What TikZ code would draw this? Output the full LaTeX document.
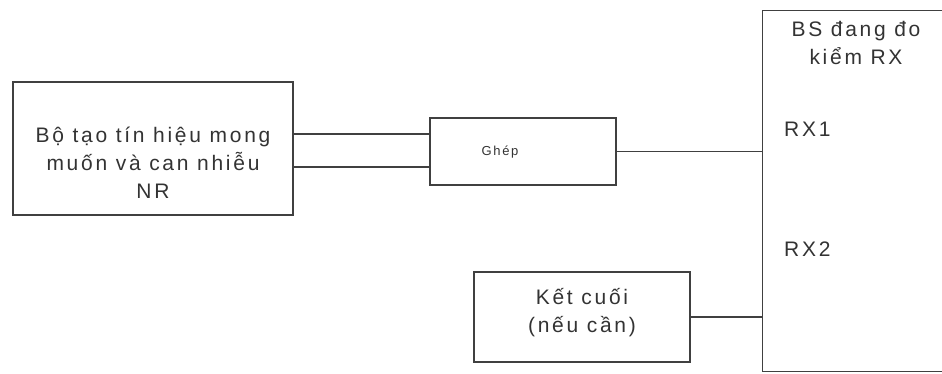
\documentclass[tikz,border=0pt]{standalone}
\usepackage{fontspec}
\setmainfont{Liberation Sans}
\newfontfamily\scanfont[LetterSpace=13]{Liberation Sans}
\usetikzlibrary{calc}

\begin{document}
\begin{tikzpicture}[x=1pt,y=-1pt,
    blk/.style={draw=black!75,line width=1.1pt},
    txt/.style={align=center,text=black!80,inner sep=0pt,
      font=\scanfont\fontsize{21}{28}\selectfont}]
    \clip (0,0) rectangle (942,374);

    % Blocks
    \node[blk,minimum width=280pt,minimum height=133pt] (gen) at (153,148.5) {};
    \node[txt] (genname) at ([yshift=-14pt]gen.center)
        {Bộ tạo tín hiệu mong\\muốn và can nhiễu\\NR};
    \node[blk,minimum width=186pt,minimum height=67pt] (ghep) at (523,151.5) {};
    \node[txt,font=\scanfont\fontsize{13}{15}\selectfont] (ghepname)
        at ([xshift=-23pt,yshift=-1pt]ghep.center) {Ghép};
    \node[blk,minimum width=216pt,minimum height=90pt] (term) at (582,317) {};
    \node[txt] (termname) at ([yshift=4pt]term.center) {Kết cuối\\(nếu cần)};

    % Base station under test
    \node[blk,minimum width=200pt,minimum height=361pt,anchor=north west]
        (bs) at (762,10) {};
    \node[txt] (bsname) at (856,43) {BS đang đo\\kiểm RX};
    \node[txt,anchor=west] (rx1) at (784,129) {RX1};
    \node[txt,anchor=west] (rx2) at (784,249) {RX2};

    % Connections
    \draw[blk] (gen.east |- 0,134) -- (ghep.west |- 0,134);
    \draw[blk] (gen.east |- 0,167) -- (ghep.west |- 0,167);
    \draw[blk] (ghep.east) -- (ghep.east -| bs.west);
    \draw[blk] (term.east) -- (term.east -| bs.west);
\end{tikzpicture}
\end{document}
